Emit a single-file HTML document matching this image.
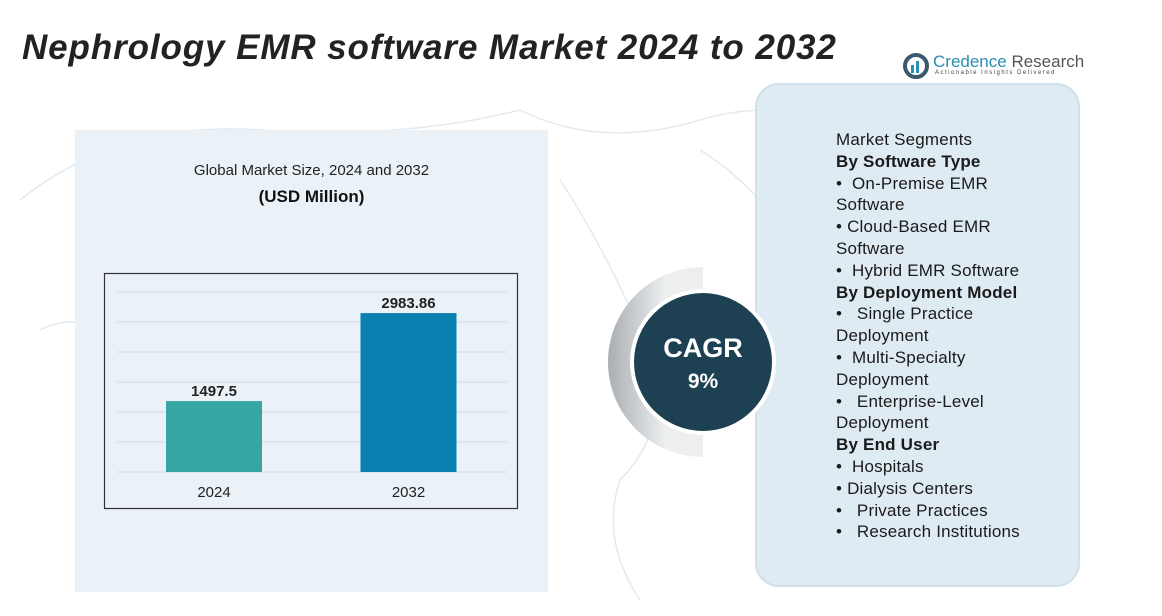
<!DOCTYPE html>
<html><head><meta charset="utf-8"><style>
body{margin:0;width:1162px;height:616px;overflow:hidden;background:#fff;font-family:"Liberation Sans",sans-serif;position:relative}
.abs{position:absolute}
#title{left:22px;top:28px;font-size:35px;font-weight:bold;font-style:italic;color:#222;letter-spacing:0.9px}
#left{left:75px;top:130px;width:473px;height:462px;background:#eaf2f8}
#right{left:755px;top:83px;width:321px;height:500px;background:#dfebf3;border:2px solid #cfe0ec;border-radius:24px}
#seg{left:836px;top:129px;font-size:17px;line-height:21.8px;color:#1a1a1a;letter-spacing:0.2px}
#seg b{font-weight:bold}
</style></head><body>
<svg class="abs" style="left:0;top:0" width="1162" height="616">
<g fill="none" stroke="#e3e9ee" stroke-width="1.5">
<path d="M20 200 Q120 120 260 130 T520 110 Q600 150 700 120 T900 150 Q1000 200 1080 260"/>
<path d="M560 180 Q600 240 640 330 T620 480 Q600 540 640 600"/>
<path d="M40 330 Q100 300 140 380 T200 560"/>
<path d="M700 150 Q780 200 820 300 T880 520"/>
</g></svg>
<div id="title" class="abs">Nephrology EMR software Market 2024 to 2032</div>
<div class="abs" style="left:903px;top:53px">
<svg width="28" height="28" style="position:absolute;left:0;top:0"><circle cx="13" cy="13" r="11" fill="none" stroke="#3c5a6e" stroke-width="4"/><rect x="8" y="12" width="3" height="8" fill="#2a8fb0"/><rect x="13" y="8" width="3" height="12" fill="#2a8fb0"/></svg>
<div style="position:absolute;left:30px;top:-1px;font-size:17px;color:#2a8fb0;white-space:nowrap">Credence <span style="color:#555">Research</span></div>
<div style="position:absolute;left:32px;top:17px;font-size:6px;letter-spacing:1.5px;color:#444;white-space:nowrap">Actionable Insights Delivered</div>
</div>
<div id="left" class="abs"></div>
<div class="abs" style="left:75px;top:162px;width:473px;text-align:center;font-size:15px;color:#222">Global Market Size, 2024 and 2032</div>
<div class="abs" style="left:75px;top:187px;width:473px;text-align:center;font-size:17px;font-weight:bold;color:#111">(USD Million)</div>
<svg id="chart" class="abs" style="left:0;top:0" width="1162" height="616"></svg>
<div id="right" class="abs"></div>
<svg class="abs" style="left:580px;top:240px" width="250" height="250">
<defs><linearGradient id="g" x1="0" x2="1"><stop offset="0" stop-color="#a9aeb2"/><stop offset="0.6" stop-color="#eceeef"/></linearGradient></defs>
<path d="M123 27 A95 95 0 0 0 123 217 L123 122 Z" fill="url(#g)"/>
<circle cx="123" cy="122" r="73" fill="#fff"/>
<circle cx="123" cy="122" r="69" fill="#1d4152"/>
<text x="123" y="117" text-anchor="middle" fill="#fff" font-size="27" font-weight="bold" font-family="Liberation Sans, sans-serif">CAGR</text>
<text x="123" y="148" text-anchor="middle" fill="#fff" font-size="21" font-weight="bold" font-family="Liberation Sans, sans-serif">9%</text>
</svg>
<div id="seg" class="abs">
Market Segments<br><b>By Software Type</b><br>•&nbsp; On-Premise EMR<br>Software<br>• Cloud-Based EMR<br>Software<br>•&nbsp; Hybrid EMR Software<br><b>By Deployment Model</b><br>•&nbsp;&nbsp; Single Practice<br>Deployment<br>•&nbsp; Multi-Specialty<br>Deployment<br>•&nbsp;&nbsp; Enterprise-Level<br>Deployment<br><b>By End User</b><br>•&nbsp; Hospitals<br>• Dialysis Centers<br>•&nbsp;&nbsp; Private Practices<br>•&nbsp;&nbsp; Research Institutions
</div>
<script>
const categories=["2024","2032"];
const values=[1497.5,2983.86];
const valueLabels=["1497.5","2983.86"];
const barColors=["#35a6a4","#0a80b1"];
const NS="http://www.w3.org/2000/svg";
const svg=document.getElementById('chart');
const base=472, top0=292, vMin=300, vMax=3340;
function y(v){return base-(v-vMin)/(vMax-vMin)*(base-top0);}
function x(i){return 166+i*194.5;}
function mk(t,a){const e=document.createElementNS(NS,t);for(const k in a)e.setAttribute(k,a[k]);svg.appendChild(e);return e;}
const fr=mk('rect',{x:104.5,y:273.5,width:413,height:235,fill:'none',stroke:'#333','stroke-width':1.2});


for(let k=0;k<7;k++){const gy=292+k*30;const l=mk('line',{x1:117,x2:507,y1:gy,y2:gy,stroke:'#d3d9de','stroke-width':1});

}
values.forEach((v,i)=>{
const b=mk('rect',{x:x(i),y:y(v),width:96,height:base-y(v),fill:barColors[i]});


const t=mk('text',{x:x(i)+48,y:y(v)-5,'text-anchor':'middle','font-size':15,'font-weight':'bold',fill:'#222'});
t.textContent=valueLabels[i];


const c=mk('text',{x:x(i)+48,y:497,'text-anchor':'middle','font-size':15,fill:'#222'});
c.textContent=categories[i];


});
</script>
</body></html>
